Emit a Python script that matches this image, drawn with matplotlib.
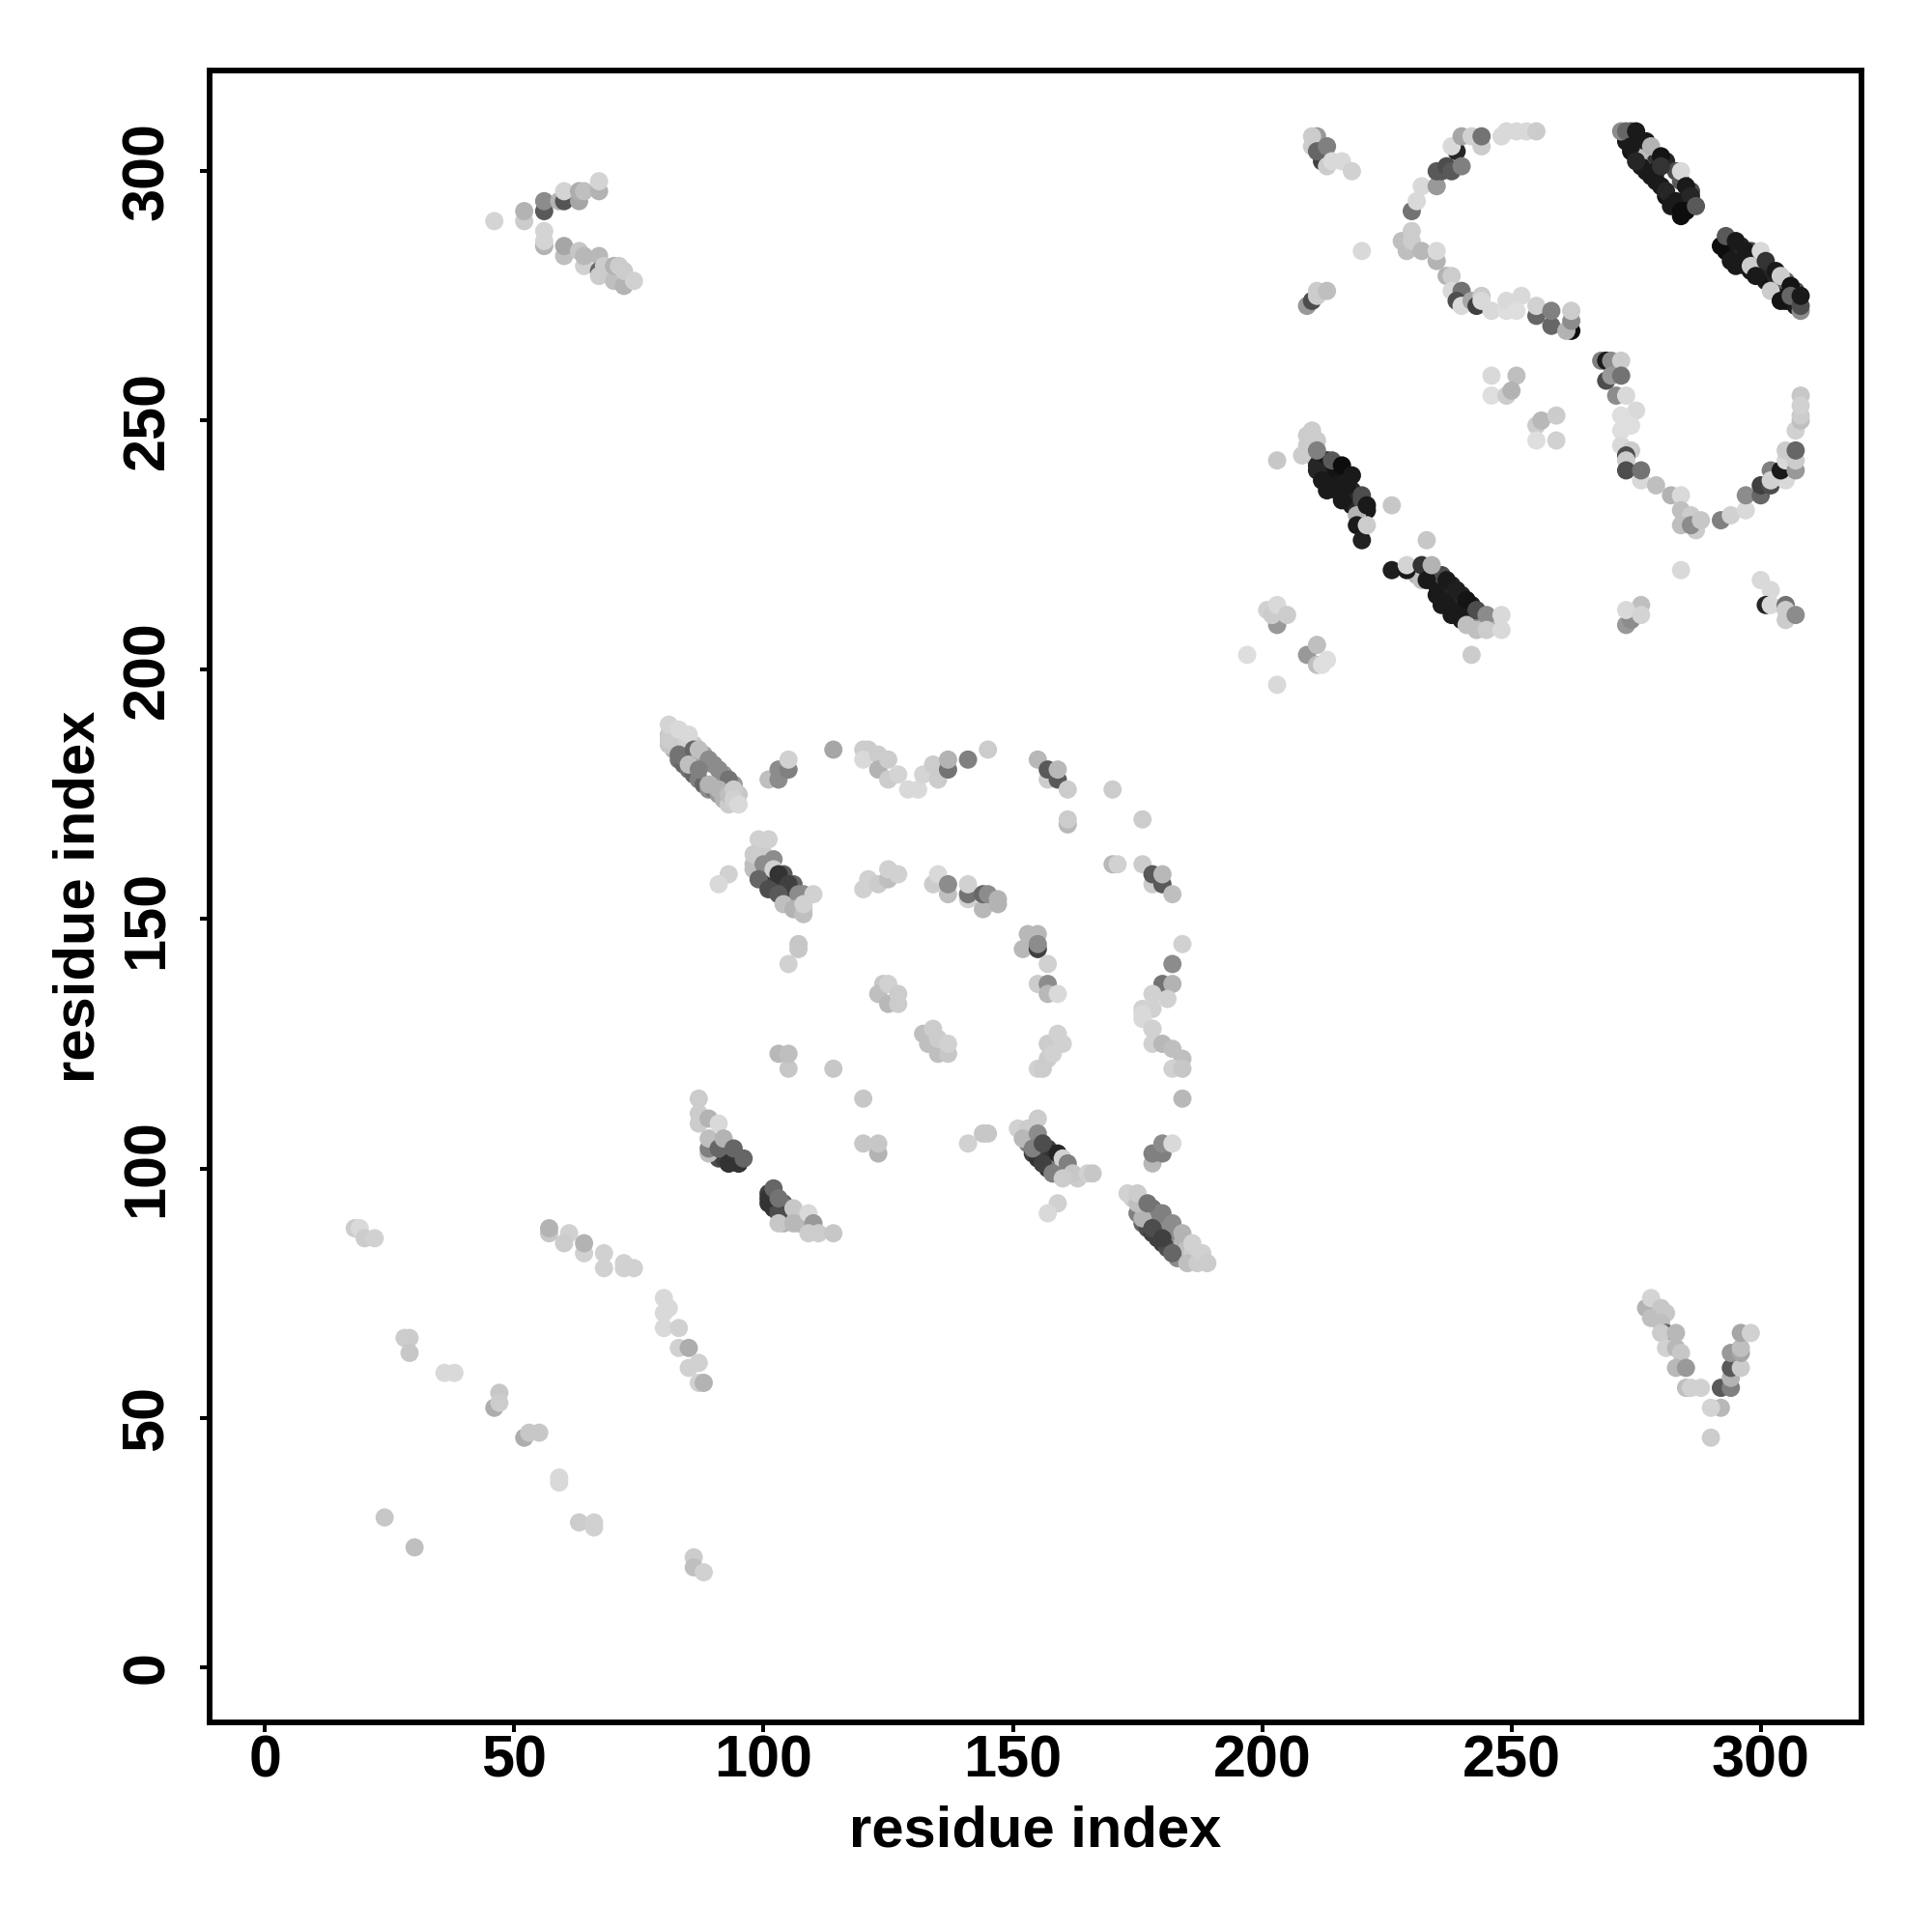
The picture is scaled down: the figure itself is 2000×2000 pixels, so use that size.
import matplotlib
matplotlib.use('Agg')
import matplotlib.pyplot as plt

plt.rcParams['font.family'] = ['Liberation Sans', 'DejaVu Sans']
plt.rcParams['font.weight'] = 'bold'

ticks = [0, 50, 100, 150, 200, 250, 300]
axis_label = 'residue index'

# lower left, weak contacts
weak_x = [18, 19, 20, 22, 28, 29, 29, 36, 38, 47, 46, 47, 52, 53, 55, 59, 59, 24, 30, 63, 66, 66, 86, 86, 88]
weak_y = [88, 88, 86, 86, 66, 66, 63, 59, 59, 55, 52, 53, 46, 47, 47, 38, 37, 30, 24, 29, 29, 28, 22, 20, 19]
weak_g = [.8, .85, .8, .82, .8, .8, .78, .85, .85, .78, .68, .8, .68, .78, .78, .85, .85, .78, .75, .8, .82, .82, .8, .75, .82]

strand_x = [57, 57, 61, 60, 64, 64, 68, 68, 72, 72, 74, 80, 80, 81, 80, 83, 83, 85, 87, 85, 87, 88]
strand_y = [87, 88, 87, 85, 83, 85, 83, 80, 81, 80, 80, 74, 71, 72, 68, 68, 64, 64, 61, 60, 57, 57]
strand_g = [.78, .7, .82, .8, .82, .7, .82, .82, .82, .82, .82, .85, .85, .85, .85, .82, .82, .68, .82, .82, .82, .7]

# top left hairpin
hairpin_x = [46, 52, 52, 56, 56, 59, 60, 60, 63, 63, 64, 67, 67, 56, 56, 56, 60, 60, 63, 64, 64, 67, 67, 68, 67, 70, 70, 72, 72, 71, 74]
hairpin_y = [290, 290, 292, 292, 294, 294, 294, 296, 294, 296, 296, 296, 298, 285, 286, 288, 283, 285, 284, 281, 283, 283, 280, 281, 279, 278, 281, 277, 280, 281, 278]
hairpin_g = [.83, .8, .7, .35, .55, .7, .33, .83, .65, .68, .75, .7, .83, .7, .83, .83, .75, .65, .78, .82, .72, .72, .4, .8, .8, .75, .7, .7, .8, .8, .82]

# bottom right V
vee_x = [277, 278, 280, 278, 281, 280, 281, 280, 283, 281, 283, 284, 283, 285, 285, 286, 288, 292, 294, 292, 290, 290, 294, 294, 296, 294, 296, 296, 296, 298]
vee_y = [72, 74, 72, 70, 71, 69, 67, 67, 67, 64, 64, 63, 60, 60, 56, 56, 56, 56, 56, 52, 52, 46, 58, 60, 60, 63, 63, 64, 67, 67]
vee_g = [.7, .83, .78, .75, .78, .75, .4, .8, .72, .82, .72, .78, .72, .6, .75, .82, .82, .35, .5, .72, .83, .8, .7, .35, .8, .6, .65, .75, .65, .82]

# band 80-97 / 189-173
bandA_x = [81, 81, 81, 83, 85, 83, 86, 87, 85, 89, 87, 91, 89, 93, 91, 93, 94, 94, 95]
bandA_y = [185, 186, 189, 188, 187, 183, 184, 184, 181, 182, 180, 180, 177, 178, 176, 175, 176, 174, 173]
bandA_g = [.78, .8, .83, .85, .85, .45, .4, .75, .75, .55, .5, .55, .7, .45, .7, .75, .8, .82, .85]
underA_x = [81, 82, 83, 84, 85, 86, 87, 88, 89, 90, 91, 92, 93, 84, 86, 88, 90, 92, 94, 95]
underA_y = [187, 184, 182, 181, 180, 179, 178, 177, 176, 176, 175, 174, 173, 186, 185, 183, 181, 179, 177, 175]
underA_g = [.78, .7, .45, .4, .45, .4, .5, .4, .55, .45, .6, .7, .8, .82, .8, .65, .55, .6, .6, .78]

arc_top_x = [101, 103, 103, 105, 105, 114, 120, 121, 120, 123, 123, 125, 125, 127, 129, 131, 132, 135, 134, 137, 137, 141, 145, 155, 157, 159, 157, 159, 161, 170, 161, 161, 176]
arc_top_y = [178, 178, 180, 180, 182, 184, 184, 184, 182, 183, 180, 182, 178, 179, 176, 176, 179, 178, 181, 180, 182, 182, 184, 182, 178, 178, 180, 180, 176, 176, 169, 170, 170]
arc_top_g = [.75, .55, .55, .5, .82, .65, .8, .8, .85, .8, .7, .8, .8, .83, .85, .85, .83, .8, .8, .45, .7, .5, .8, .72, .8, .35, .35, .72, .8, .8, .72, .8, .8]

# band 99-110 / 166-151
bandB_x = [99, 101, 98, 98, 100, 99, 102, 101, 103, 105, 103, 107, 104, 106, 108, 108, 110, 93, 91, 107, 107, 105]
bandB_y = [166, 166, 160, 163, 161, 158, 160, 156, 159, 157, 155, 155, 153, 152, 151, 153, 155, 159, 157, 145, 144, 141]
bandB_g = [.82, .82, .75, .8, .55, .4, .82, .3, .2, .25, .35, .55, .75, .7, .75, .82, .82, .82, .85, .78, .78, .82]
underB_x = [100, 101, 102, 103, 104, 105, 106, 107, 98, 100, 102, 104, 106, 108, 108]
underB_y = [159, 158, 157, 156, 155, 154, 153, 152, 161, 163, 162, 159, 157, 155, 152]
underB_g = [.3, .25, .25, .25, .3, .3, .4, .55, .75, .8, .55, .35, .4, .55, .78]

mid_x = [120, 121, 123, 125, 125, 127, 134, 135, 137, 137, 141, 141, 141, 144, 144, 145, 147, 147, 170, 171, 176, 178, 180, 178, 180, 182]
mid_y = [156, 158, 157, 158, 160, 159, 157, 159, 155, 157, 154, 155, 157, 152, 155, 155, 153, 154, 161, 161, 161, 157, 157, 159, 159, 155]
mid_g = [.82, .82, .8, .75, .82, .82, .8, .85, .75, .55, .82, .45, .82, .72, .4, .55, .7, .7, .72, .82, .8, .8, .35, .35, .72, .75]

ring_x = [152, 153, 155, 155, 155, 157, 155, 157, 157, 159, 124, 123, 125, 125, 127, 127, 184, 182, 180, 182, 178, 181, 176, 178, 176, 178, 176, 178, 178, 180, 182, 184, 182, 184, 184]
ring_y = [144, 147, 147, 144, 145, 141, 137, 137, 135, 135, 137, 135, 137, 133, 133, 135, 145, 141, 137, 137, 135, 134, 132, 132, 130, 128, 131, 125, 128, 125, 124, 122, 120, 120, 114]
ring_g = [.72, .72, .72, .25, .55, .82, .8, .55, .72, .85, .78, .75, .82, .72, .8, .8, .82, .55, .45, .7, .82, .82, .82, .82, .85, .82, .85, .82, .82, .72, .75, .75, .82, .78, .72]

inner_x = [132, 133, 134, 135, 135, 137, 137, 157, 157, 158, 155, 156, 159, 160, 103, 105, 105, 114, 120, 120, 123, 123, 141, 144, 145]
inner_y = [127, 125, 128, 123, 126, 123, 125, 122, 125, 123, 120, 120, 127, 125, 123, 120, 123, 120, 114, 105, 103, 105, 105, 107, 107]
inner_g = [.75, .75, .8, .75, .8, .78, .82, .8, .8, .82, .82, .8, .82, .82, .72, .78, .75, .78, .78, .78, .7, .78, .82, .78, .78]

# band 87-96 / 114-101
bandC_x = [87, 87, 87, 89, 89, 89, 89, 91, 93, 91, 92, 93, 95, 94, 96]
bandC_y = [114, 109, 111, 110, 103, 104, 106, 109, 101, 104, 106, 101, 101, 104, 102]
bandC_g = [.8, .8, .8, .7, .75, .5, .75, .85, .2, .4, .7, .2, .2, .4, .4]
underC_x = [90, 91, 92, 92, 94, 95]
underC_y = [103, 102, 102, 104, 102, 101]
underC_g = [.4, .3, .25, .55, .25, .2]

bandD_x = [101, 102, 103, 103, 103, 106, 106, 109, 110, 109, 111, 114]
bandD_y = [94, 96, 91, 89, 94, 92, 89, 91, 89, 87, 87, 87]
bandD_g = [.2, .4, .3, .78, .45, .78, .72, .85, .6, .8, .8, .78]
underD_x = [101, 101, 102, 103, 104, 105, 104, 105, 104, 107]
underD_y = [95, 93, 92, 92, 91, 90, 93, 92, 89, 89]
underD_g = [.25, .2, .2, .3, .3, .4, .4, .5, .7, .72]

# band 151-166 / 110-98
bandE_x = [155, 151, 153, 152, 155, 154, 156, 156, 158, 159, 160, 158, 161, 162, 160, 165, 166, 159, 157]
bandE_y = [110, 108, 108, 106, 107, 104, 105, 101, 99, 103, 102, 99, 101, 99, 98, 99, 99, 93, 91]
bandE_g = [.8, .82, .8, .72, .55, .5, .3, .25, .5, .15, .82, .5, .5, .78, .8, .82, .78, .82, .85]
underE_x = [152, 153, 154, 155, 156, 157, 158, 153, 155, 157, 158, 159, 160, 161, 163]
underE_y = [107, 105, 103, 102, 101, 100, 100, 107, 105, 104, 103, 101, 100, 99, 98]
underE_g = [.75, .5, .25, .2, .2, .2, .3, .6, .3, .25, .2, .5, .7, .75, .8]

bandF_x = [178, 180, 178, 180, 182, 173, 176, 175, 175, 178, 177, 180, 178, 180, 182, 182, 184, 185, 186, 187, 188, 189]
bandF_y = [101, 103, 103, 105, 105, 95, 90, 93, 95, 88, 93, 91, 88, 86, 89, 83, 87, 81, 85, 81, 83, 81]
bandF_g = [.72, .5, .5, .55, .85, .82, .7, .75, .8, .3, .45, .5, .3, .25, .55, .4, .7, .75, .82, .8, .82, .8]
underF_x = [174, 176, 175, 176, 177, 178, 179, 180, 181, 182, 183, 178, 179, 180, 181, 182, 183, 184, 185, 186, 187]
underF_y = [94, 93, 91, 89, 88, 87, 86, 85, 84, 83, 82, 92, 91, 90, 89, 88, 87, 85, 84, 83, 82]
underF_g = [.8, .8, .5, .4, .3, .25, .25, .25, .3, .4, .55, .45, .5, .5, .55, .55, .55, .7, .75, .8, .82]

# clusters near 197-213 / 197-213
small_x = [197, 203, 201, 203, 202, 203, 205, 209, 211, 211, 212, 213, 276, 273, 274, 273, 276, 284, 300, 302, 301, 302, 305, 305, 305, 307]
small_y = [203, 197, 212, 209, 211, 213, 211, 203, 205, 201, 201, 202, 213, 209, 210, 212, 211, 220, 218, 216, 213, 213, 210, 213, 212, 211]
small_g = [.87, .85, .82, .6, .8, .85, .8, .6, .75, .75, .87, .87, .75, .6, .55, .85, .83, .85, .85, .85, .15, .85, .8, .45, .8, .55]

# band 209-222 / 248-226
bandG_x = [203, 208, 209, 210, 211, 212, 211, 213, 214, 216, 216, 218, 215, 217, 219, 220, 221, 219, 220, 221, 226, 233]
bandG_y = [242, 243, 245, 248, 240, 238, 244, 236, 242, 241, 234, 239, 237, 237, 231, 235, 233, 229, 226, 229, 233, 226]
bandG_g = [.78, .8, .8, .8, .15, .1, .5, .1, .35, .05, .1, .1, .1, .1, .7, .3, .1, .1, .13, .8, .78, .78]
underG_x = [210, 211, 212, 213, 214, 215, 216, 217, 218, 219, 213, 215, 217, 218, 220, 221, 209, 211]
underG_y = [243, 241, 240, 239, 238, 236, 236, 235, 233, 232, 242, 240, 238, 236, 234, 232, 247, 246]
underG_g = [.7, .15, .1, .1, .1, .1, .1, .1, .1, .15, .1, .08, .1, .15, .3, .1, .8, .8]

# band 226-248 / 221-208
bandH_x = [226, 229, 229, 232, 233, 235, 234, 236, 238, 237, 240, 239, 241, 241, 243, 245, 243, 245, 248, 248, 242]
bandH_y = [220, 220, 221, 221, 218, 215, 221, 213, 211, 218, 210, 216, 214, 209, 212, 211, 208, 208, 208, 211, 203]
bandH_g = [.12, .1, .83, .2, .1, .1, .7, .1, .1, .1, .1, .12, .08, .75, .3, .55, .75, .8, .85, .85, .8]
underH_x = [233, 234, 235, 236, 237, 238, 239, 240, 241, 242, 236, 238, 240, 242, 243, 244, 245, 231, 232]
underH_y = [219, 218, 217, 216, 214, 213, 212, 211, 210, 209, 219, 217, 215, 213, 211, 209, 209, 219, 218]
underH_g = [.1, .1, .1, .1, .1, .1, .1, .1, .1, .3, .3, .15, .15, .12, .2, .5, .7, .7, .75]

# upper right arc
arc_up_x = [210, 211, 210, 212, 211, 213, 213, 214, 216, 218, 220, 209, 210, 211, 211, 213, 230, 231, 232, 235, 236, 235, 237, 238, 239, 240, 238, 240, 242, 244, 244, 248, 249, 251, 253, 255]
arc_up_y = [305, 307, 307, 302, 304, 305, 301, 302, 302, 300, 284, 273, 274, 275, 276, 276, 292, 294, 297, 297, 300, 300, 301, 300, 304, 301, 305, 307, 307, 305, 307, 307, 308, 308, 308, 308]
arc_up_g = [.8, .6, .8, .25, .4, .5, .8, .85, .85, .82, .85, .6, .3, .8, .8, .75, .45, .85, .85, .6, .35, .35, .3, .35, .15, .5, .85, .65, .82, .8, .45, .85, .85, .85, .85, .8]

arc_down_x = [228, 230, 229, 230, 232, 235, 235, 237, 238, 238, 240, 239, 240, 242, 243, 244, 244, 246, 249, 249, 252, 251, 255, 255, 258, 258, 262, 261, 262, 262]
arc_down_y = [286, 288, 284, 286, 284, 282, 284, 279, 279, 276, 276, 274, 273, 274, 273, 275, 274, 272, 272, 274, 275, 272, 271, 273, 269, 272, 268, 268, 270, 272]
arc_down_g = [.75, .8, .75, .8, .72, .7, .85, .7, .8, .85, .45, .3, .85, .65, .25, .8, .85, .85, .87, .85, .85, .87, .4, .82, .4, .5, .05, .7, .55, .8]

# right U
u_x = [268, 269, 270, 272, 269, 270, 272, 271, 273, 275, 272, 274, 272, 272, 274, 273, 273, 273, 276, 276, 279, 282, 284, 284, 286, 284, 287, 286, 288, 292, 294, 297, 297, 300, 300, 302, 302, 305, 302, 304, 305, 307, 307, 305, 307, 307, 308, 308, 308, 308]
u_y = [262, 262, 262, 262, 258, 259, 259, 255, 255, 252, 251, 249, 248, 245, 244, 243, 242, 240, 238, 240, 237, 235, 235, 232, 231, 229, 228, 229, 230, 230, 231, 232, 235, 235, 237, 237, 240, 238, 238, 240, 242, 240, 242, 244, 244, 248, 255, 250, 251, 253]
u_g = [.5, .1, .55, .8, .3, .6, .45, .55, .85, .85, .87, .87, .87, .85, .8, .3, .8, .3, .85, .45, .75, .7, .85, .75, .8, .75, .8, .55, .78, .5, .82, .85, .55, .4, .25, .3, .5, .85, .82, .1, .85, .6, .8, .8, .4, .82, .78, .75, .8, .82]

patch_x = [246, 251, 246, 249, 250, 255, 256, 259, 255, 259]
patch_y = [259, 259, 255, 255, 256, 249, 250, 251, 246, 246]
patch_g = [.85, .75, .87, .8, .7, .8, .72, .8, .87, .82]

# band 272-287 / 308-292
bandI_x = [272, 273, 275, 274, 275, 277, 278, 279, 280, 281, 280, 283, 284, 282, 285, 284, 286, 285, 287]
bandI_y = [308, 308, 308, 305, 302, 306, 305, 300, 303, 296, 301, 294, 300, 293, 297, 292, 295, 292, 293]
bandI_g = [.55, .4, .1, .1, .15, .1, .7, .1, .08, .15, .2, .1, .85, .1, .1, .05, .15, .05, .35]
underI_x = [273, 274, 275, 276, 277, 278, 279, 280, 281, 282, 283, 284, 276, 277, 279, 281, 283, 284, 286, 274, 276]
underI_y = [306, 304, 303, 301, 300, 299, 298, 297, 295, 294, 293, 291, 306, 305, 303, 302, 300, 298, 296, 308, 304]
underI_g = [.1, .08, .1, .1, .1, .1, .1, .1, .08, .1, .05, .05, .15, .6, .2, .15, .3, .35, .3, .3, .75]

# band 292-308 / 287-272
bandJ_x = [292, 293, 295, 294, 297, 295, 298, 300, 301, 299, 302, 303, 304, 306, 304, 306, 308, 308, 308]
bandJ_y = [285, 287, 286, 282, 284, 281, 281, 284, 282, 279, 276, 280, 279, 277, 274, 275, 272, 273, 275]
bandJ_g = [.05, .35, .1, .1, .1, .1, .8, .85, .2, .1, .8, .1, .8, .08, .08, .4, .55, .3, .1]
underJ_x = [293, 294, 295, 296, 297, 298, 299, 300, 301, 302, 303, 304, 305, 306, 307, 294, 296, 298, 299, 301, 303, 305, 307]
underJ_y = [284, 283, 282, 282, 281, 280, 280, 279, 278, 277, 276, 275, 274, 274, 273, 286, 285, 284, 283, 281, 279, 278, 276]
underJ_g = [.05, .08, .1, .1, .1, .1, .1, .1, .1, .08, .05, .08, .08, .08, .1, .1, .15, .3, .35, .15, .15, .4, .3]

clusters = [
    (weak_x, weak_y, weak_g), (strand_x, strand_y, strand_g),
    (hairpin_x, hairpin_y, hairpin_g), (vee_x, vee_y, vee_g),
    (underA_x, underA_y, underA_g), (bandA_x, bandA_y, bandA_g),
    (arc_top_x, arc_top_y, arc_top_g),
    (underB_x, underB_y, underB_g), (bandB_x, bandB_y, bandB_g),
    (mid_x, mid_y, mid_g), (ring_x, ring_y, ring_g), (inner_x, inner_y, inner_g),
    (underC_x, underC_y, underC_g), (bandC_x, bandC_y, bandC_g),
    (underD_x, underD_y, underD_g), (bandD_x, bandD_y, bandD_g),
    (underE_x, underE_y, underE_g), (bandE_x, bandE_y, bandE_g),
    (underF_x, underF_y, underF_g), (bandF_x, bandF_y, bandF_g),
    (small_x, small_y, small_g),
    (underG_x, underG_y, underG_g), (bandG_x, bandG_y, bandG_g),
    (underH_x, underH_y, underH_g), (bandH_x, bandH_y, bandH_g),
    (arc_up_x, arc_up_y, arc_up_g), (arc_down_x, arc_down_y, arc_down_g),
    (u_x, u_y, u_g), (patch_x, patch_y, patch_g),
    (underI_x, underI_y, underI_g), (bandI_x, bandI_y, bandI_g),
    (underJ_x, underJ_y, underJ_g), (bandJ_x, bandJ_y, bandJ_g),
]

fig = plt.figure(figsize=(20, 20), dpi=100)
ax = fig.add_axes([217/2000, 1-1783/2000, 1710/2000, 1710/2000])

for xs, ys, gs in clusters:
    ax.scatter(xs, ys, s=185, c=[str(g) for g in gs], linewidths=0, zorder=2)

ax.set_xlim(-11.1, 320.2)
ax.set_ylim(-11.1, 320.2)
ax.set_xticks(ticks)
ax.set_yticks(ticks)
ax.tick_params(axis='both', length=7.2, width=2.9, labelsize=44)
ax.tick_params(axis='x', pad=2)
ax.tick_params(axis='y', pad=18)
for lab in ax.get_yticklabels():
    lab.set_rotation(90)
    lab.set_va('center')
for s in ax.spines.values():
    s.set_linewidth(4.2)

ax.set_xlabel(axis_label, fontsize=43, fontweight='bold', labelpad=11)
ax.set_ylabel(axis_label, fontsize=43, fontweight='bold', labelpad=11)

fig.savefig('out.png', dpi=100, facecolor='white')
